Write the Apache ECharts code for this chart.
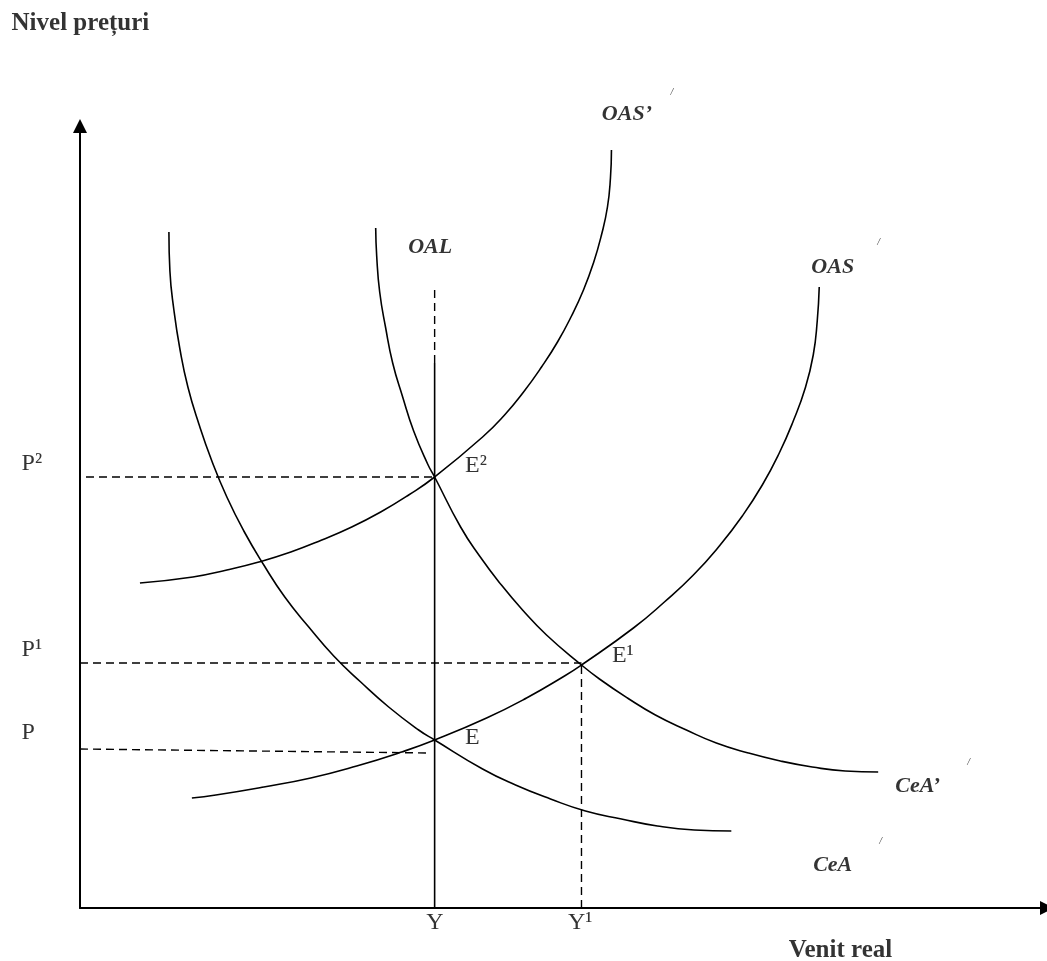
<!DOCTYPE html>
<html><head><meta charset="utf-8">
<script src="https://cdn.jsdelivr.net/npm/echarts@6/dist/echarts.min.js"></script>
<style>html,body{margin:0;padding:0;background:#fff}#c{width:1047px;height:961px}</style>
</head><body><div id="c"></div>
<script>
// Curves (x = real income units, y = price-level units)
const CEA = [[89,676],[90,637],[94,598],[100,559],[108,521],[119,484],[132,447],[147,411],[164,377],[184,343],[205,311],[229,281],[254,252],[281,226],[309,201],[339,178],[355,168],[403,139],[436,123],[471,109],[506,97],[542,89],[578,82],[615,78],[652,77]];
const CEA_PRIME = [[296,680],[297,652],[300,616],[306,580],[313,545],[323,511],[334,477],[348,444],[355,431],[381,381],[400,352],[421,324],[443,298],[467,273],[502,243],[520,229],[548,210],[576,193],[607,178],[637,165],[669,155],[701,147],[733,141],[766,137],[799,136]];
const OAS = [[112,110],[136,113],[184,121],[231,130],[277,142],[322,156],[355,168],[407,190],[447,210],[485,232],[502,243],[554,280],[585,306],[614,333],[640,362],[663,392],[683,423],[700,455],[714,487],[726,520],[734,553],[738,587],[740,621]];
const OAS_PRIME = [[60,325],[113,331],[147,338],[179,346],[211,356],[242,368],[272,381],[301,396],[329,413],[355,431],[403,471],[425,493],[444,516],[462,541],[478,566],[492,592],[504,618],[514,645],[522,673],[528,701],[531,730],[532,758]];
const OAL_SOLID = [[355,0],[355,545]];
const OAL_DASH = [[355,545],[355,621]];
const GUIDE_P = [[0,159],[350,155]];
const GUIDE_P1 = [[0,245],[502,245]];
const GUIDE_P2 = [[6,431],[354,431]];
const GUIDE_Y1 = [[502,0],[502,243]];
// Texts: [text, x, y]
const CURVE_LABELS = [['OAS’',548,793],['OAL',351,660],['OAS',754,640],['CeA’',839,121],['CeA',754,42]];
const POINT_LABELS = [['P²',-58,444],['P¹',-58,258],['P',-58,175],['E²',386,442],['E¹',533,252],['E',386,170],['Y',347,-15],['Y¹',489,-15]];
const AXIS_TITLES = [['Nivel prețuri',-68,884],['Venit real',710,-43]];
const SMALL_MARKS = [['/',593,815],['/',800,665],['/',890,145],['/',802,66]];

const FONT = 'Liberation Serif, Times New Roman, serif';
const toItems = arr => arr.map(d => ({ name: d[0], value: [d[1], d[2]] }));

function curve(name, data) {
  return { name, type: 'line', data, smooth: 0.5, showSymbol: false, silent: true,
    lineStyle: { color: '#000', width: 1.6 } };
}
function guide(name, data, dashed) {
  return { name, type: 'line', data, showSymbol: false, silent: true,
    lineStyle: { color: '#000', width: dashed ? 1.4 : 1.6, type: dashed ? [8, 5] : 'solid' } };
}
function textSeries(name, arr, style) {
  return { name, type: 'scatter', data: toItems(arr), symbolSize: 1, clip: false, silent: true,
    itemStyle: { color: 'transparent' },
    label: Object.assign({ show: true, position: [0, 0], formatter: '{b}', color: '#000', fontFamily: FONT, verticalAlign: 'middle' }, style) };
}

const chart = echarts.init(document.getElementById('c'));
chart.setOption({
  animation: false,
  backgroundColor: '#fff',
  grid: { left: 80, right: -1, top: 126, bottom: 53 },
  xAxis: { type: 'value', min: 0, max: 968, splitLine: { show: false }, axisTick: { show: false }, axisLabel: { show: false },
    axisLine: { show: true, onZero: false, symbol: ['none', 'triangle'], symbolSize: [14, 14], lineStyle: { color: '#000', width: 2 } } },
  yAxis: { type: 'value', min: 0, max: 782, splitLine: { show: false }, axisTick: { show: false }, axisLabel: { show: false },
    axisLine: { show: true, onZero: false, symbol: ['none', 'triangle'], symbolSize: [14, 14], lineStyle: { color: '#000', width: 2 } } },
  series: [
    guide('P', GUIDE_P, true),
    guide('P1', GUIDE_P1, true),
    guide('P2', GUIDE_P2, true),
    guide('Y1', GUIDE_Y1, true),
    guide('OAL dashed', OAL_DASH, true),
    guide('OAL', OAL_SOLID, false),
    curve('CeA', CEA),
    curve('CeA’', CEA_PRIME),
    curve('OAS', OAS),
    curve('OAS’', OAS_PRIME),
    textSeries('curve labels', CURVE_LABELS, { fontSize: 22, fontWeight: 'bold', fontStyle: 'italic', align: 'center' }),
    textSeries('point labels', POINT_LABELS, { fontSize: 24, align: 'left' }),
    textSeries('axis titles', AXIS_TITLES, { fontSize: 25, fontWeight: 'bold', align: 'left' }),
    textSeries('marks', SMALL_MARKS, { fontSize: 10, fontStyle: 'italic', align: 'center' })
  ]
});
</script></body></html>
